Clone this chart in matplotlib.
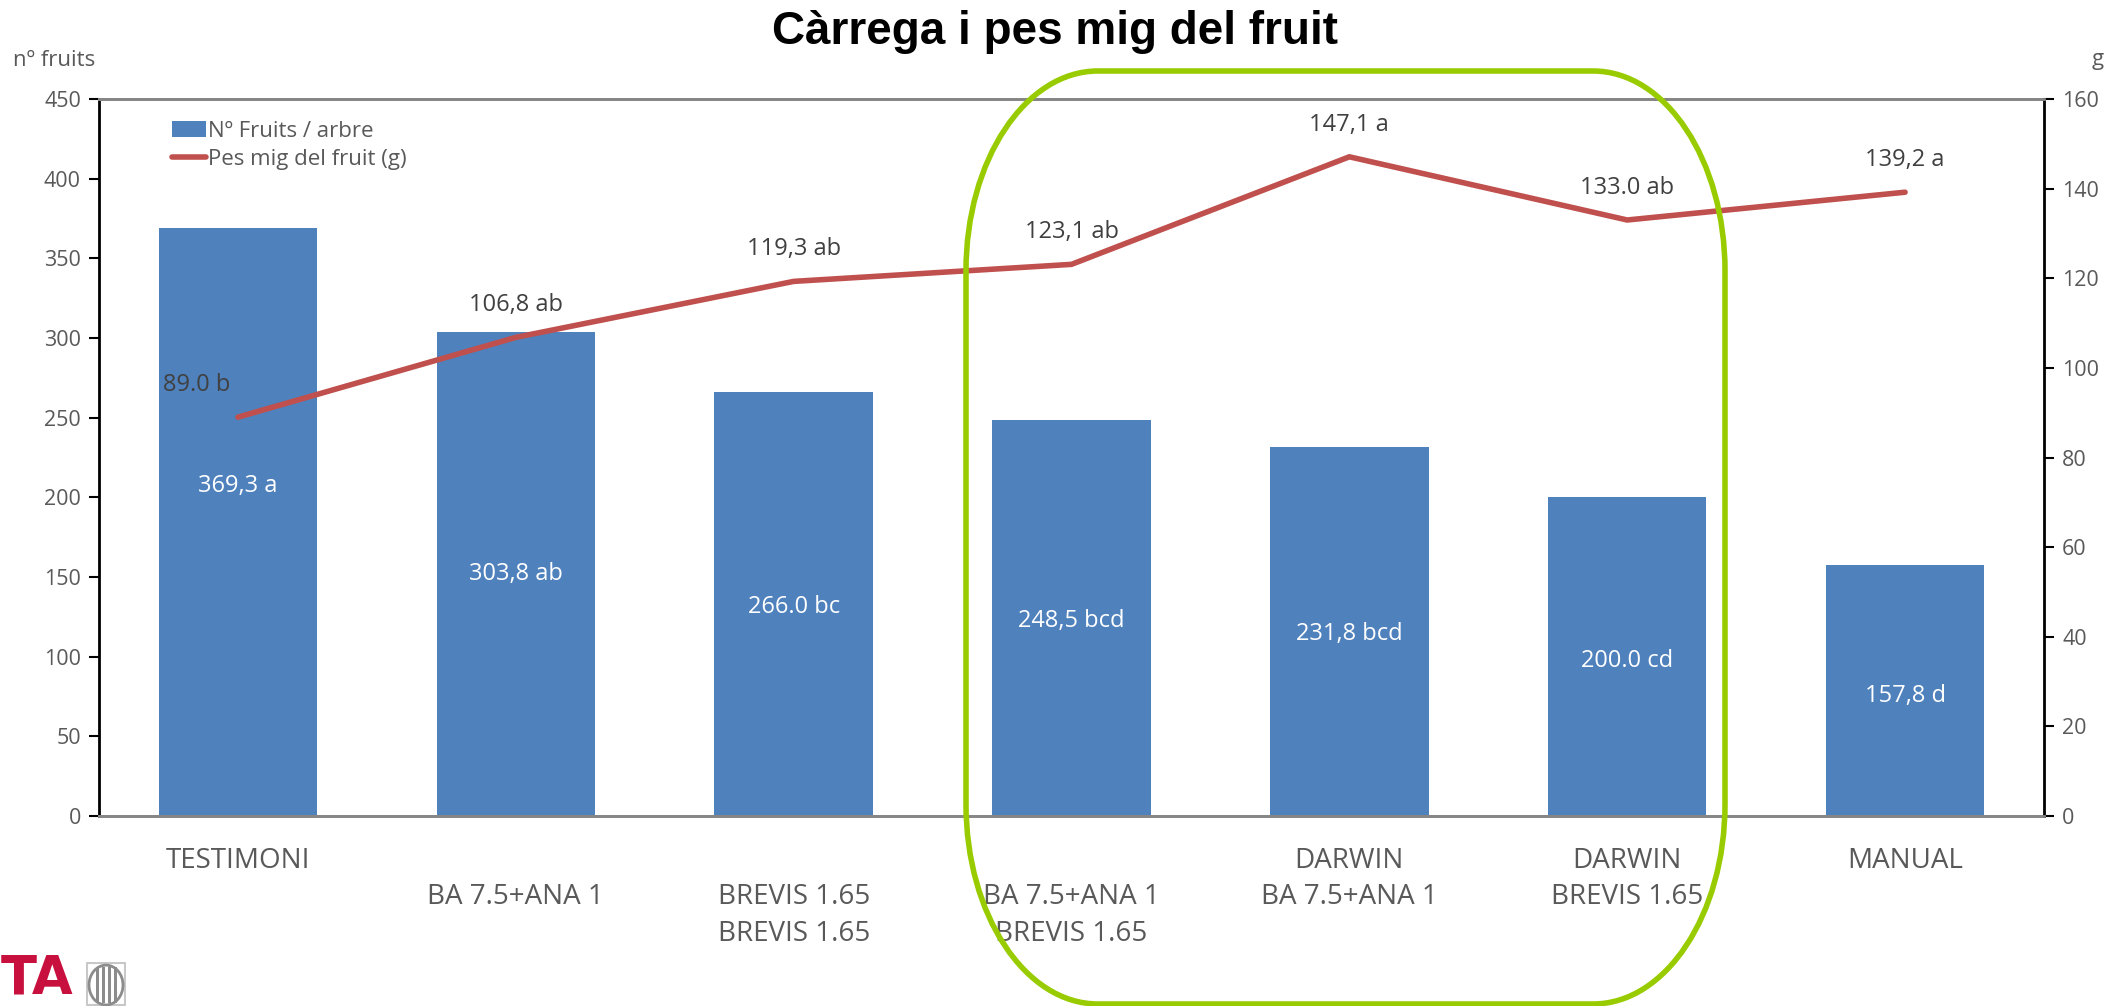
import matplotlib
matplotlib.use('Agg')
import matplotlib.pyplot as plt
from matplotlib.path import Path
from matplotlib.patches import PathPatch, Ellipse, Rectangle
import numpy as np

# Càrrega i pes mig del fruit - number of fruits per tree (bars) and mean fruit weight (line)
categories = ['TESTIMONI', '\nBA 7.5+ANA 1', '\nBREVIS 1.65\nBREVIS 1.65',
              '\nBA 7.5+ANA 1\nBREVIS 1.65', 'DARWIN\nBA 7.5+ANA 1',
              'DARWIN\nBREVIS 1.65', 'MANUAL']
fruits = [369.3, 303.8, 266.0, 248.5, 231.8, 200.0, 157.8]
fruit_labels = ['369,3 a', '303,8 ab', '266.0 bc', '248,5 bcd', '231,8 bcd', '200.0 cd', '157,8 d']
weight = [89.0, 106.8, 119.3, 123.1, 147.1, 133.0, 139.2]
weight_labels = ['89.0 b', '106,8 ab', '119,3 ab', '123,1 ab', '147,1 a', '133.0 ab', '139,2 a']

plt.rcParams['font.family'] = ['Open Sans', 'DejaVu Sans']
txt = '#595959'
W, H = 2109, 1006

fig = plt.figure(figsize=(W / 100, H / 100), dpi=100)
ax = fig.add_axes([99 / W, 1 - 816 / H, (2044 - 99) / W, (816 - 99) / H])
x = np.arange(len(categories))

bars = ax.bar(x, fruits, width=0.57, color='#4F81BD', label='Nº Fruits / arbre', zorder=2)
ax.set_xlim(-0.5, len(categories) - 0.5)
ax.set_ylim(0, 450)
ax.set_yticks(range(0, 451, 50))
ax.set_xticks(x)
ax.set_xticklabels(categories, fontsize=20, color=txt, linespacing=1.42, va='top')
ax.tick_params(axis='x', length=0, pad=22)
ax.tick_params(axis='y', labelsize=15.5, labelcolor=txt, length=7, width=1.5, color='black', pad=6)

# bar value labels (white, inside bars)
bar_offsets = [26, 0, -2, -2, -2, -3, -4]
for xi, v, lab, off in zip(x, fruits, fruit_labels, bar_offsets):
    ax.annotate(lab, (xi, v / 2), xytext=(0, off), textcoords='offset points',
                ha='center', va='center', color='white', fontsize=17)

ax2 = ax.twinx()
ax2.set_ylim(0, 160)
ax2.set_yticks(range(0, 161, 20))
ax2.tick_params(axis='y', labelsize=15.5, labelcolor=txt, length=7, width=1.5, color='black', pad=6)
line, = ax2.plot(x, weight, color='#C0504D', lw=4, solid_capstyle='round',
                 solid_joinstyle='miter', label='Pes mig del fruit (g)', zorder=3)

# line value labels
line_offsets = [(-30, 23)] + [(0, 23)] * 6
for xi, v, lab, off in zip(x, weight, weight_labels, line_offsets):
    ax2.annotate(lab, (xi, v), xytext=off, textcoords='offset points',
                 ha='center', va='center', color='#404040', fontsize=17)

# spines
for a in (ax, ax2):
    a.spines['top'].set_color('#868686')
    a.spines['bottom'].set_color('#868686')
    a.spines['top'].set_linewidth(2)
    a.spines['bottom'].set_linewidth(2)
ax.spines['left'].set_color('black')
ax.spines['left'].set_linewidth(2)
ax.spines['right'].set_visible(False)
ax2.spines['left'].set_visible(False)
ax2.spines['right'].set_color('black')
ax2.spines['right'].set_linewidth(2)

ax2.legend([bars, line], ['Nº Fruits / arbre', 'Pes mig del fruit (g)'],
           loc='upper left', bbox_to_anchor=(0.032, 0.985), frameon=False,
           fontsize=16, handlelength=1.5, handletextpad=0.1, labelspacing=0.3,
           borderpad=0, labelcolor=txt)

fig.text(0.5, 1 - 32 / H, 'Càrrega i pes mig del fruit', ha='center', va='center',
         fontsize=33, fontweight='bold', family='Liberation Sans', color='black')
fig.text(13 / W, 1 - 60 / H, 'nº fruits', ha='left', va='center', fontsize=16, color=txt)
fig.text(2104 / W, 1 - 60 / H, 'g', ha='right', va='center', fontsize=16, color=txt)

# green rounded highlight box (pixel coordinates converted to figure fraction)
x0, x1, top, bot, rx, ry = 966, 1725, 71, 1004, 132, 200
k = 0.5523
pts = [
    (x0 + rx, top), (x1 - rx, top),
    (x1 - rx + k * rx, top), (x1, top + ry - k * ry), (x1, top + ry),
    (x1, bot - ry),
    (x1, bot - ry + k * ry), (x1 - rx + k * rx, bot), (x1 - rx, bot),
    (x0 + rx, bot),
    (x0 + rx - k * rx, bot), (x0, bot - ry + k * ry), (x0, bot - ry),
    (x0, top + ry),
    (x0, top + ry - k * ry), (x0 + rx - k * rx, top), (x0 + rx, top),
]
codes = [Path.MOVETO, Path.LINETO,
         Path.CURVE4, Path.CURVE4, Path.CURVE4,
         Path.LINETO,
         Path.CURVE4, Path.CURVE4, Path.CURVE4,
         Path.LINETO,
         Path.CURVE4, Path.CURVE4, Path.CURVE4,
         Path.LINETO,
         Path.CURVE4, Path.CURVE4, Path.CURVE4]
verts = [(px / W, 1 - py / H) for px, py in pts]
box = PathPatch(Path(verts, codes), transform=fig.transFigure, fill=False,
                edgecolor='#99CC00', lw=4, zorder=10)
fig.patches.append(box)

# logos at bottom left
fig.text(1 / W, 1 / H, 'TA', ha='left', va='bottom', fontsize=38, fontweight='bold',
         family='Liberation Sans Narrow', color='#C8103E')
lax = fig.add_axes([86 / W, 0, 40 / W, 44 / H])
lax.set_xlim(0, 1)
lax.set_ylim(0, 1.05)
lax.axis('off')
lax.add_patch(Rectangle((0.02, 0.02), 0.96, 1.0, fill=False, edgecolor='#C8C8C8', lw=1.5))
lax.add_patch(Ellipse((0.5, 0.5), 0.85, 0.95, fill=False, edgecolor='#8C8C8C', lw=2))
for sx in (0.3, 0.45, 0.6, 0.75):
    lax.add_patch(Rectangle((sx - 0.06, 0.06), 0.08, 0.88, color='#8C8C8C', lw=0))

fig.savefig('out.png', dpi=100)
